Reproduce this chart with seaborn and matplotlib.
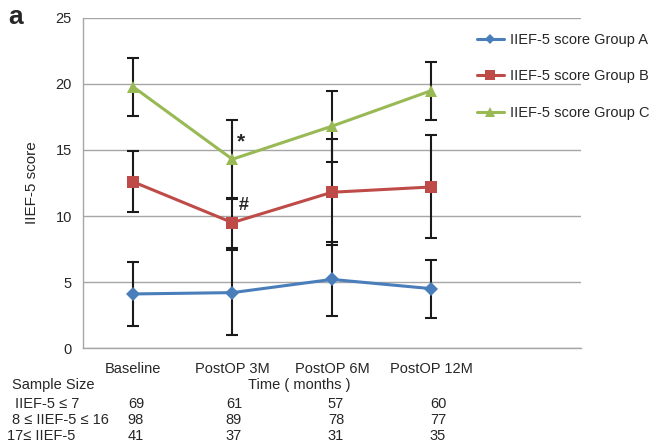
import numpy as np
import pandas as pd
import matplotlib
matplotlib.use("Agg")
import matplotlib.pyplot as plt
import seaborn as sns
from matplotlib.ticker import FixedLocator

# data
categories = ["Baseline", "PostOP 3M", "PostOP 6M", "PostOP 12M"]
groups = ["IIEF-5 score Group A", "IIEF-5 score Group B", "IIEF-5 score Group C"]
mean_a = [4.1, 4.2, 5.2, 4.5]
mean_b = [12.6, 9.5, 11.8, 12.2]
mean_c = [19.8, 14.3, 16.8, 19.5]
sd_a = [2.4, 3.2, 2.8, 2.2]
sd_b = [2.3, 1.9, 4.0, 3.9]
sd_c = [2.2, 3.0, 2.7, 2.2]

size_labels = ["IIEF-5 \u2264 7", "8 \u2264 IIEF-5 \u2264 16", "17\u2264 IIEF-5"]
size_a = [69, 61, 57, 60]
size_b = [98, 89, 78, 77]
size_c = [41, 37, 31, 35]

colors = ["#4a7ebb", "#be4b48", "#98b954"]
markers = ["D", "s", "^"]
msizes = [7, 9, 9]

sns.set_style("white")
plt.rcParams["font.family"] = ["Liberation Sans", "DejaVu Sans"]
plt.rcParams["font.size"] = 10

df = pd.DataFrame({
    "time": list(range(len(categories))) * 3,
    "score": mean_a + mean_b + mean_c,
    "sd": sd_a + sd_b + sd_c,
    "group": [g for g in groups for _ in categories],
})

fig = plt.figure(figsize=(6.54, 4.48), dpi=100)
ax = fig.add_axes([0.127, 0.223, 0.761, 0.737])

# error bars first so lines sit on top
for g, c in zip(groups, colors):
    d = df[df["group"] == g]
    ax.errorbar(d["time"], d["score"], yerr=d["sd"], fmt="none", ecolor="#1a1a1a",
                elinewidth=1.5, capsize=4, capthick=1.5, zorder=2)

sns.lineplot(data=df, x="time", y="score", hue="group", style="group",
             palette=colors, markers=markers, dashes=False, linewidth=2.2,
             markeredgewidth=0, ax=ax, zorder=3, legend=False)
for line, ms in zip(ax.lines[-3:], msizes):
    line.set_markersize(ms)

ax.set_ylim(0, 25)
ax.set_xlim(-0.5, 4.5)
ax.set_yticks([0, 5, 10, 15, 20, 25])
ax.yaxis.grid(True, color="#a6a6a6", linewidth=1)
ax.set_axisbelow(True)
ax.set_xticks(range(len(categories)))
ax.set_xticklabels(categories)
ax.xaxis.set_minor_locator(FixedLocator(np.arange(-0.5, 5, 1)))
ax.tick_params(axis="x", which="major", length=0, pad=10, labelsize=10.5)
ax.tick_params(axis="x", which="minor", length=5, color="#a6a6a6", direction="out")
ax.tick_params(axis="y", length=5, color="#a6a6a6", direction="out", labelsize=10.5, pad=3)
for s in ["top", "right"]:
    ax.spines[s].set_visible(False)
for s in ["left", "bottom"]:
    ax.spines[s].set_color("#a6a6a6")
    ax.spines[s].set_linewidth(1)
ax.set_xlabel("")
ax.set_ylabel("IIEF-5 score", fontsize=11, labelpad=12)

ax.text(1.09, 15.6, "*", fontsize=15, fontweight="bold", ha="center", va="center")
ax.text(1.11, 10.8, "#", fontsize=13, fontweight="bold", ha="center", va="center")

# legend
handles = [plt.Line2D([], [], color=c, marker=m, markersize=ms * 0.8, linewidth=2.2,
                      markeredgewidth=0) for c, m, ms in zip(colors, markers, msizes)]
fig.legend(handles, groups, loc="upper left", bbox_to_anchor=(0.712, 0.953),
           frameon=False, fontsize=10.5, labelspacing=1.55, handlelength=1.8,
           handletextpad=0.45, borderpad=0.3)

fig.text(0.012, 0.962, "a", fontsize=19, fontweight="bold", va="center")

# sample size table below the axis
fig.text(0.457, 1 - 385 / 448, "Time ( months )", ha="center", va="center", fontsize=10.5)
fig.text(0.081, 1 - 385 / 448, "Sample Size", ha="center", va="center", fontsize=10.5)
col_x = [136, 234, 336, 438]
row_y = [404, 420, 436]
label_x = [15, 12, 7]
for lab, vals, y, lx in zip(size_labels, [size_a, size_b, size_c], row_y, label_x):
    fig.text(lx / 654, 1 - y / 448, lab, ha="left", va="center", fontsize=10.5)
    for v, x in zip(vals, col_x):
        fig.text(x / 654, 1 - y / 448, str(v), ha="center", va="center", fontsize=10.5)

fig.savefig("out.png", dpi=100)
